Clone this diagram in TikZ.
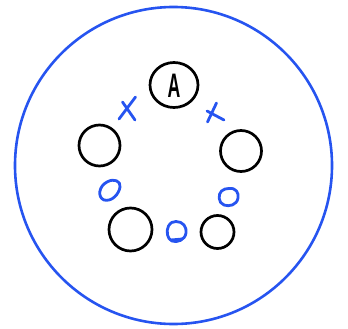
\documentclass[tikz,border=0pt]{standalone}
\usepackage{fontspec}
\setsansfont{Liberation Sans}
\usetikzlibrary{shapes.geometric}
\definecolor{penblue}{RGB}{38,84,240}
\tikzset{
  ring/.style={circle,draw=black,line width=2.7pt,inner sep=0pt},
  outerring/.style={circle,draw=penblue,line width=2.6pt,inner sep=0pt},
  xstroke/.style={draw=penblue,line width=2.8pt,line cap=round},
  bluering/.style={draw=penblue,line width=2.8pt,line cap=round,line join=round}
}
\begin{document}
\begin{tikzpicture}[x=1pt,y=-1pt]
\useasboundingbox (0,0) rectangle (348,329);
\node[outerring,minimum size=317pt] (big) at (173.5,165.5) {};
\node[ellipse,draw=black,line width=2.7pt,minimum width=48pt,minimum height=45pt,inner sep=0pt] (a) at (174,85) {};
\node[font=\sffamily\bfseries\fontsize{34}{34}\selectfont,xscale=0.52,inner sep=0pt] (alabel) at (174,86) {A};
\node[ring,minimum size=41pt] (l) at (99.5,145.5) {};
\node[ring,minimum size=41pt] (r) at (241,151) {};
\node[ring,minimum size=43pt] (bl) at (130.5,229.5) {};
\node[ring,minimum size=33pt] (br) at (217.5,232) {};
% blue crosses
\draw[xstroke] (135.5,97) -- (119,119);
\draw[xstroke] (122.5,102) -- (135,120);
\draw[xstroke] (216.5,103) -- (207.5,122);
\draw[xstroke] (207,111) -- (224,120);
% blue loops
\draw[bluering] (104,200) .. controls (97,197) and (99,186) .. (107,182)
  .. controls (114,178) and (121,181) .. (120,187)
  .. controls (119,194) and (112,202) .. (104,200) -- cycle;
\draw[bluering] (229,188.5) .. controls (236,187.5) and (239,193) .. (238,198)
  .. controls (237,205) and (229,207) .. (224,205)
  .. controls (218,203) and (218,194) .. (221.5,191)
  .. controls (224,189) and (226,188.5) .. (229,188.5) -- cycle;
\draw[bluering] (176,221.5) .. controls (183,221.5) and (187,227) .. (186,233)
  .. controls (185,240) and (177,243) .. (172,241)
  .. controls (167,239) and (166,231) .. (168.5,226)
  .. controls (170.5,222.5) and (173,221.5) .. (176,221.5) -- cycle;
\draw[bluering] (171,240) -- (182,239);
\end{tikzpicture}
\end{document}
